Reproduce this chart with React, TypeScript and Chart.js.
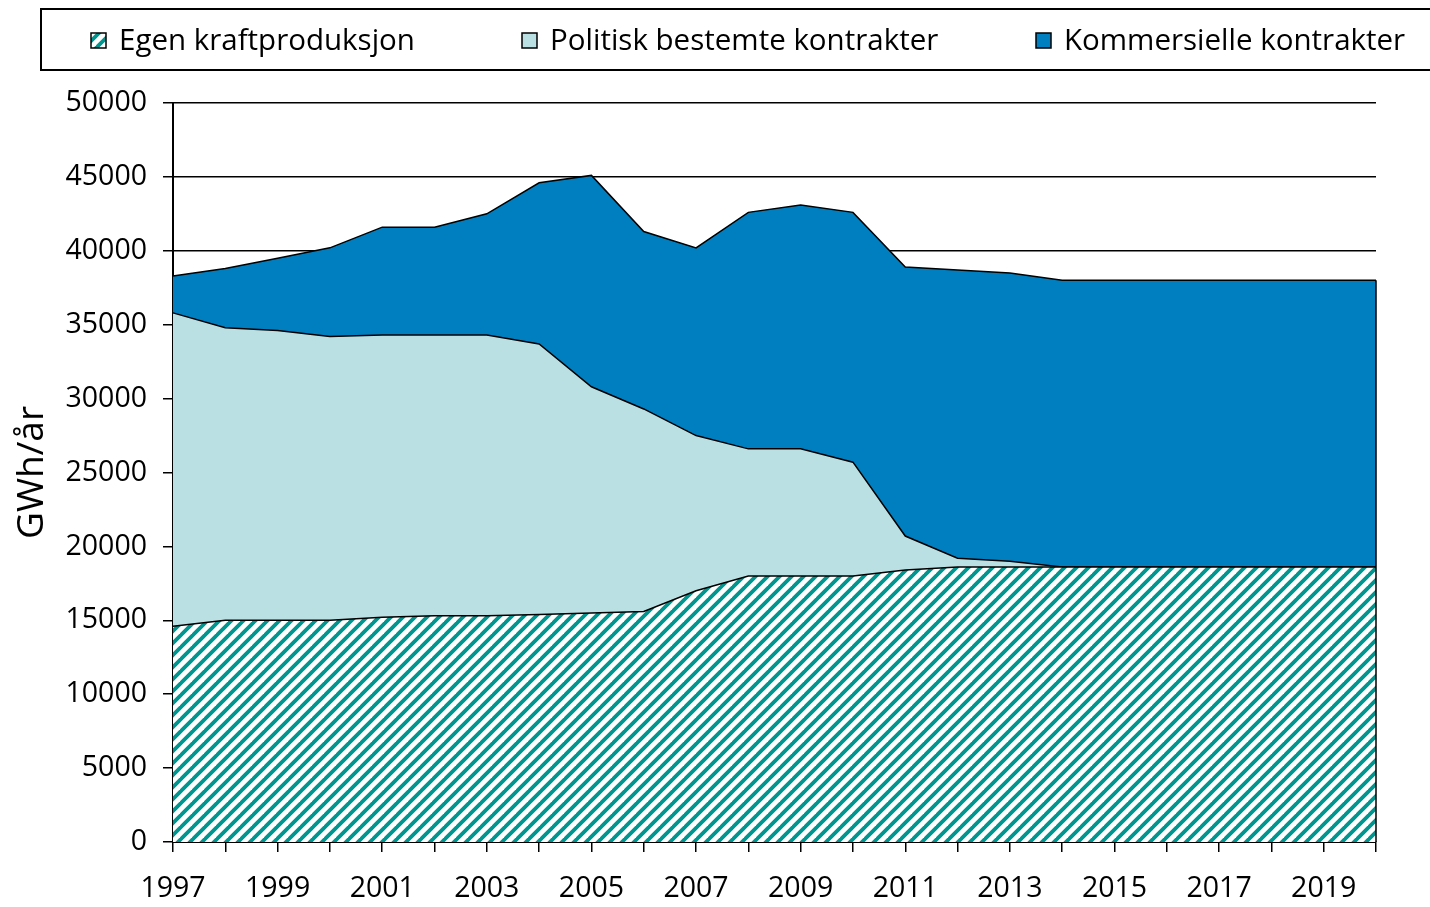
import React, { useEffect, useRef } from 'react';
import { Chart, registerables } from 'chart.js';

Chart.register(...registerables);

// ---- Data ----
const years = [
  '1997', '1998', '1999', '2000', '2001', '2002', '2003', '2004', '2005', '2006', '2007', '2008',
  '2009', '2010', '2011', '2012', '2013', '2014', '2015', '2016', '2017', '2018', '2019', '2020',
];
const egenKraftproduksjon = [
  14600, 15000, 15000, 15000, 15200, 15300, 15300, 15400, 15500, 15600, 17000, 18000,
  18000, 18000, 18400, 18600, 18600, 18600, 18600, 18600, 18600, 18600, 18600, 18600,
];
const politiskBestemteKontrakter = [
  21200, 19800, 19600, 19200, 19100, 19000, 19000, 18300, 15300, 13700, 10500, 8600,
  8600, 7700, 2300, 600, 400, 0, 0, 0, 0, 0, 0, 0,
];
const kommersielleKontrakter = [
  2500, 4000, 4900, 6000, 7300, 7300, 8200, 10900, 14300, 12000, 12700, 16000,
  16500, 16900, 18200, 19500, 19500, 19400, 19400, 19400, 19400, 19400, 19400, 19400,
];
const seriesLabels = ['Egen kraftproduksjon', 'Politisk bestemte kontrakter', 'Kommersielle kontrakter'];
const yAxisTitle = 'GWh/år';
const yMin = 0;
const yMax = 50000;
const yStep = 5000;

const FONT = "'Open Sans', 'DejaVu Sans', sans-serif";

function makeHatch(): CanvasPattern | string {
  const s = 12;
  const c = document.createElement('canvas');
  c.width = s;
  c.height = s;
  const g = c.getContext('2d');
  if (!g) return '#00968F';
  g.fillStyle = '#ffffff';
  g.fillRect(0, 0, s, s);
  g.strokeStyle = '#00968F';
  g.lineWidth = 3.8;
  g.lineCap = 'square';
  for (let k = 0; k <= 2; k++) {
    g.beginPath();
    g.moveTo(k * s + 2, -2);
    g.lineTo(k * s - s - 2, s + 2);
    g.stroke();
  }
  const p = g.createPattern(c, 'repeat');
  return p || '#00968F';
}

const legendPlugin = {
  id: 'boxLegend',
  afterDraw(chart: any) {
    const ctx = chart.ctx;
    ctx.save();
    ctx.lineWidth = 2;
    ctx.strokeStyle = '#000';
    ctx.strokeRect(41, 9, 1430, 61);
    const xs = [91, 522, 1036];
    chart.data.datasets.forEach((ds: any, i: number) => {
      const x = xs[i];
      const y = 33;
      ctx.fillStyle = ds.backgroundColor;
      ctx.fillRect(x, y, 15, 15);
      ctx.lineWidth = 1.5;
      ctx.strokeStyle = '#000';
      ctx.strokeRect(x, y, 15, 15);
      ctx.fillStyle = '#000';
      ctx.font = `29.5px ${FONT}`;
      ctx.textBaseline = 'middle';
      ctx.textAlign = 'left';
      ctx.fillText(ds.label, x + 28, y + 9);
    });
    ctx.restore();
  },
};

const edgePlugin = {
  id: 'rightEdge',
  afterDatasetsDraw(chart: any) {
    const xScale = chart.scales.x;
    const yScale = chart.scales.y;
    const last = years.length - 1;
    const total = egenKraftproduksjon[last] + politiskBestemteKontrakter[last] + kommersielleKontrakter[last];
    const ctx = chart.ctx;
    const x = xScale.getPixelForValue(last);
    ctx.save();
    ctx.strokeStyle = '#000';
    ctx.lineWidth = 1.5;
    ctx.beginPath();
    ctx.moveTo(x, yScale.getPixelForValue(total));
    ctx.lineTo(x, yScale.getPixelForValue(0));
    ctx.stroke();
    ctx.restore();
  },
};

export default function App() {
  const ref = useRef<HTMLCanvasElement | null>(null);

  useEffect(() => {
    if (!ref.current) return;
    const hatch = makeHatch();
    const common = {
      borderColor: '#000',
      borderWidth: 1.5,
      pointRadius: 0,
      pointHoverRadius: 0,
      tension: 0,
    };
    const chart = new Chart(ref.current, {
      type: 'line',
      data: {
        labels: years,
        datasets: [
          { ...common, label: seriesLabels[0], data: egenKraftproduksjon, backgroundColor: hatch, fill: 'origin' },
          { ...common, label: seriesLabels[1], data: politiskBestemteKontrakter, backgroundColor: '#BBE0E3', fill: '-1' },
          { ...common, label: seriesLabels[2], data: kommersielleKontrakter, backgroundColor: '#007FC0', fill: '-1' },
        ],
      },
      options: {
        animation: false,
        responsive: false,
        maintainAspectRatio: false,
        layout: { padding: { top: 103, right: 54, left: 0, bottom: 0 } },
        plugins: {
          legend: { display: false },
          tooltip: { enabled: false },
          title: { display: false },
        },
        scales: {
          x: {
            offset: false,
            grid: {
              display: true,
              drawOnChartArea: false,
              drawTicks: true,
              tickLength: 10,
              color: '#000',
              lineWidth: 1.5,
              offset: false,
            },
            border: { display: true, color: '#000', width: 2 },
            ticks: {
              autoSkip: false,
              maxRotation: 0,
              minRotation: 0,
              padding: 20,
              color: '#000',
              font: { family: FONT, size: 28.5 },
              callback: (_v: any, i: number) => (i % 2 === 0 ? years[i] : ''),
            },
            afterFit: (scale: any) => {
              scale.height = 65;
            },
          },
          y: {
            stacked: true,
            min: yMin,
            max: yMax,
            grid: {
              color: '#000',
              lineWidth: 1.5,
              tickLength: 10,
              drawTicks: true,
            },
            border: { display: true, color: '#000', width: 2 },
            ticks: {
              stepSize: yStep,
              padding: 16,
              color: '#000',
              font: { family: FONT, size: 28.5 },
              callback: (v: any) => String(v),
            },
            title: {
              display: true,
              text: yAxisTitle,
              color: '#000',
              font: { family: FONT, size: 37 },
              padding: { top: 10, bottom: 0 },
            },
            afterFit: (scale: any) => {
              scale.width = 173;
            },
          },
        },
      },
      plugins: [legendPlugin, edgePlugin],
    });
    return () => chart.destroy();
  }, []);

  return (
    <div style={{ position: 'absolute', left: 0, top: 0, width: 1430, height: 907, background: '#fff', overflow: 'hidden' }}>
      <canvas ref={ref} width={1430} height={907} style={{ display: 'block', width: 1430, height: 907 }} />
    </div>
  );
}
